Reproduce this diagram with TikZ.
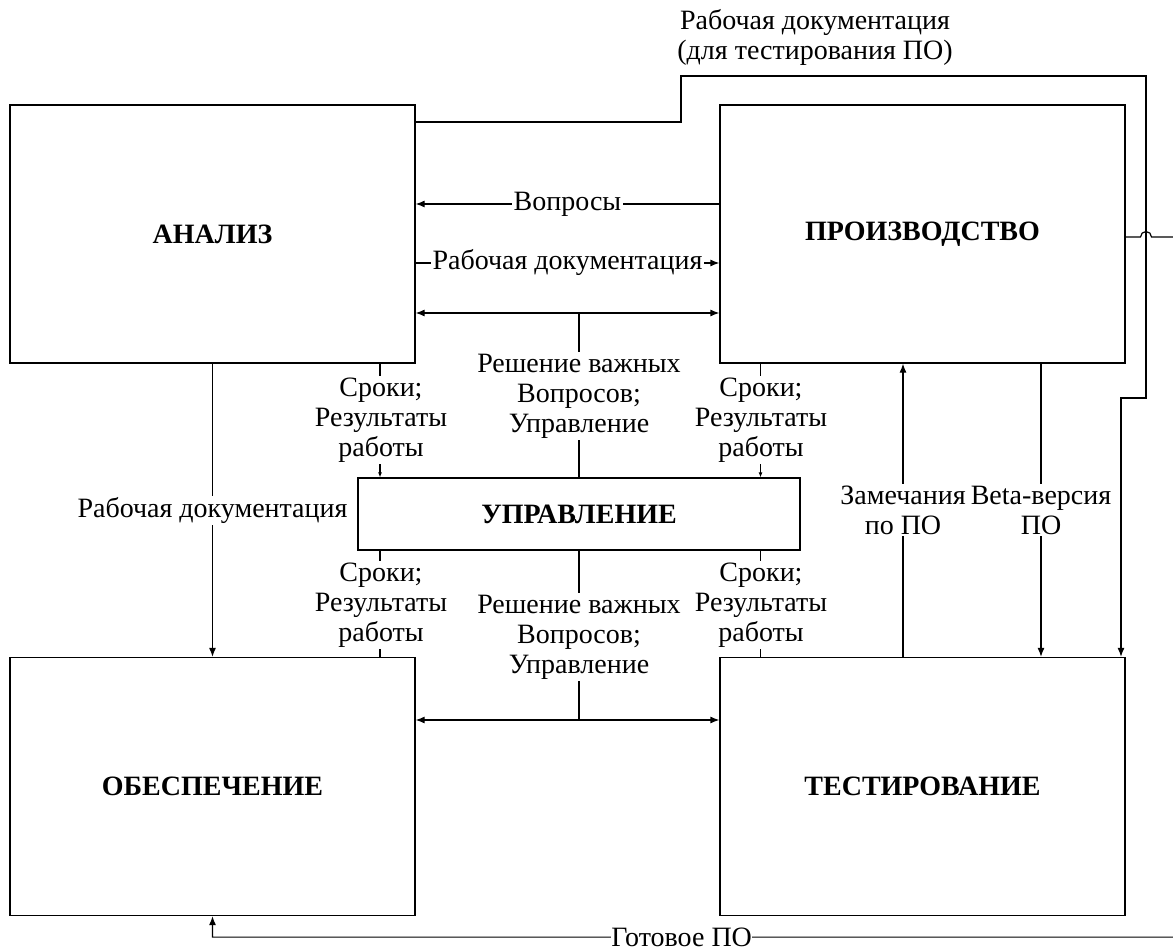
\documentclass[tikz,border=0pt]{standalone}
\usepackage{fontspec}
\setmainfont{LiberationSerif}[Extension=.ttf, UprightFont=*-Regular, BoldFont=*-Bold, ItalicFont=*-Italic, BoldItalicFont=*-BoldItalic]
\usepackage{tikz}
\usetikzlibrary{arrows.meta,positioning,calc}
\tikzset{
  blk/.style={draw, line width=0.6pt, minimum width=202.5pt, minimum height=129pt, inner sep=0pt, font=\fontsize{14}{15}\selectfont\bfseries},
  ctl/.style={draw, line width=0.6pt, minimum width=221pt, minimum height=36pt, inner sep=0pt, font=\fontsize{14}{15}\selectfont\bfseries},
  lbl/.style={fill=white, inner sep=0.8pt, align=center},
  arr/.style={-{Latex[length=4.5pt,width=3.5pt]}, line width=0.6pt},
  darr/.style={{Latex[length=4.5pt,width=3.5pt]}-{Latex[length=4.5pt,width=3.5pt]}, line width=0.6pt},
  sarr/.style={-{Latex[length=2.5pt,width=2pt]}, line width=0.6pt},
  ln/.style={line width=0.6pt},
}

\begin{document}
\begin{tikzpicture}[x=0.5pt, y=-0.5pt, font=\fontsize{14}{15}\selectfont]
  \useasboundingbox (0,0) rectangle (1173,952);
  % блоки
  \node[blk] (analiz) at (212.5,234) {АНАЛИЗ};
  \node[blk] (proizv) at (922.5,234) {ПРОИЗВОДСТВО};
  \node[blk] (obesp) at (212.5,786.5) {ОБЕСПЕЧЕНИЕ};
  \node[blk] (test) at (922.5,786.5) {ТЕСТИРОВАНИЕ};
  \node[ctl] (uprav) at (579,514) {УПРАВЛЕНИЕ};

  % анализ <-> производство
  \draw[arr] ([yshift=15pt]proizv.west) -- node[lbl] {Вопросы} ([yshift=15pt]analiz.east);
  \draw[arr] ([yshift=-14.5pt]analiz.east) -- node[lbl] {Рабочая документация} ([yshift=-14.5pt]proizv.west);
  \draw[darr] ([yshift=-39.5pt]analiz.east) coordinate (d1) -- ([yshift=-39.5pt]proizv.west);
  \draw[ln] (uprav.north) -- (uprav.north |- d1);
  \node[lbl] (reshA) at (579,396) {Решение важных\\Вопросов;\\Управление};

  % обеспечение <-> тестирование
  \draw[darr] ([yshift=33.25pt]obesp.east) coordinate (d2) -- ([yshift=33.25pt]test.west);
  \draw[ln] (uprav.south) -- (uprav.south |- d2);
  \node[lbl] (reshB) at (579,637) {Решение важных\\Вопросов;\\Управление};

  % сроки
  \coordinate (s1) at ([xshift=83.75pt]analiz.south);
  \draw[sarr] (s1) -- (s1 |- uprav.north);
  \node[lbl] (srokA) at (381,420) {Сроки;\\Результаты\\работы};
  \coordinate (s2) at ([xshift=-81pt]proizv.south);
  \draw[sarr] (s2) -- (s2 |- uprav.north);
  \node[lbl] (srokB) at (761,420) {Сроки;\\Результаты\\работы};
  \coordinate (s3) at ([xshift=83.75pt]obesp.north);
  \draw[ln] (s3 |- uprav.south) -- (s3);
  \node[lbl] (srokC) at (381,605) {Сроки;\\Результаты\\работы};
  \coordinate (s4) at ([xshift=-81pt]test.north);
  \draw[ln] (s4 |- uprav.south) -- (s4);
  \node[lbl] (srokD) at (761,605) {Сроки;\\Результаты\\работы};

  \draw[arr] (analiz.south) -- node[lbl] {Рабочая документация} (obesp.north);

  % производство <-> тестирование
  \draw[arr] ([xshift=-9.75pt]test.north) -- node[lbl] (zam) {Замечания\\по ПО} ([xshift=-9.75pt]proizv.south);
  \draw[arr] ([xshift=59.25pt]proizv.south) -- node[lbl] (beta) {Beta-версия\\ПО} ([xshift=59.25pt]test.north);

  % документация для тестирования
  \draw[arr] ([yshift=56pt]analiz.east) -| (681,76) -| (1146,398) -| ([xshift=99.25pt]test.north);
  \node[align=center] (topl) at (815,37) {Рабочая документация\\(для тестирования ПО)};

  % готовое ПО
  \draw[arr] ([yshift=-1.5pt]proizv.east) -- (1140.5,237) arc[start angle=180, end angle=0, radius=2.75pt]
    -- (1190,237) |- node[lbl, inner sep=0pt, pos=0.76] (gotov) {Готовое ПО} ([yshift=-10.5pt]obesp.south) -- (obesp.south);
\end{tikzpicture}
\end{document}
